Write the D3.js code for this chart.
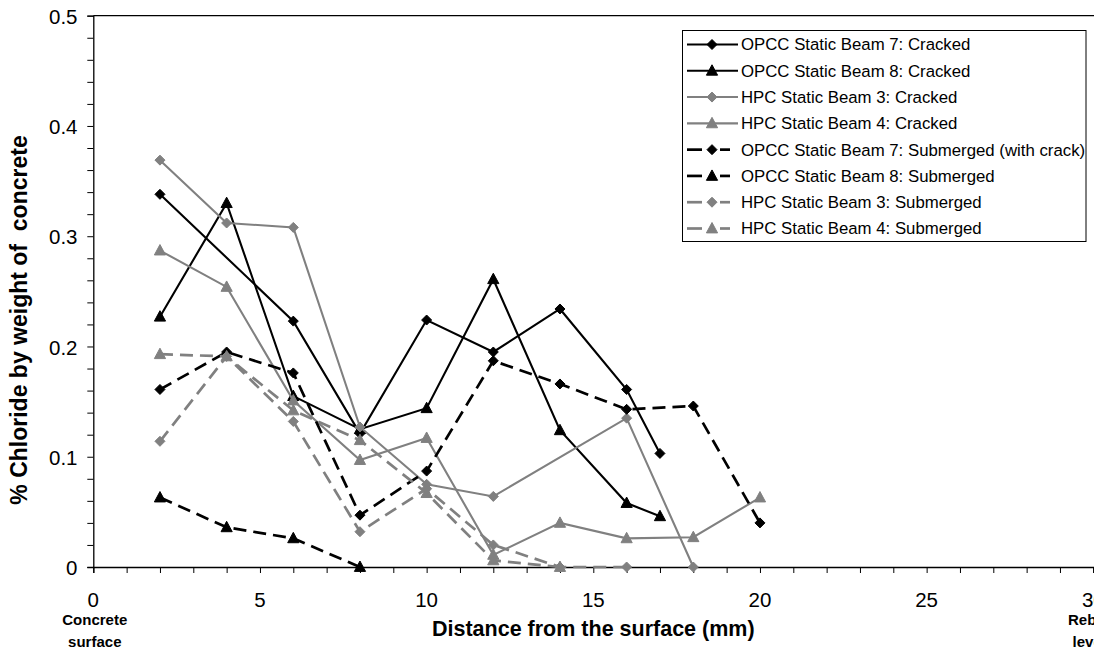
<!DOCTYPE html>
<html>
<head>
<meta charset="utf-8">
<script src="https://cdn.jsdelivr.net/npm/d3@7/dist/d3.min.js"></script>
<style>
  html, body { margin: 0; padding: 0; background: #fff; }
  svg { display: block; font-family: "Liberation Sans", Arial, sans-serif; }
</style>
</head>
<body>
<svg id="chart" width="1094" height="648"></svg>
<script>
// Chloride profiles: depth (mm) and % chloride by weight of concrete
const xOPCC7Cracked = [2, 6, 8, 10, 12, 14, 16, 17];
const yOPCC7Cracked = [0.338, 0.223, 0.121, 0.224, 0.195, 0.234, 0.161, 0.103];

const xOPCC8Cracked = [2, 4, 6, 8, 10, 12, 14, 16, 17];
const yOPCC8Cracked = [0.227, 0.330, 0.155, 0.125, 0.144, 0.261, 0.124, 0.058, 0.046];

const xHPC3Cracked = [2, 4, 6, 8, 10, 12, 16, 18];
const yHPC3Cracked = [0.369, 0.312, 0.308, 0.127, 0.075, 0.064, 0.135, 0];

const xHPC4Cracked = [2, 4, 6, 8, 10, 12, 14, 16, 18, 20];
const yHPC4Cracked = [0.287, 0.254, 0.151, 0.097, 0.117, 0.011, 0.040, 0.026, 0.027, 0.063];

const xOPCC7Sub = [2, 4, 6, 8, 10, 12, 14, 16, 18, 20];
const yOPCC7Sub = [0.161, 0.195, 0.176, 0.047, 0.087, 0.187, 0.166, 0.143, 0.146, 0.040];

const xOPCC8Sub = [2, 4, 6, 8];
const yOPCC8Sub = [0.063, 0.036, 0.026, 0];

const xHPC3Sub = [2, 4, 6, 8, 10, 12, 14, 16];
const yHPC3Sub = [0.114, 0.191, 0.132, 0.032, 0.071, 0.020, 0, 0];

const xHPC4Sub = [2, 4, 6, 8, 10, 12, 14];
const yHPC4Sub = [0.193, 0.191, 0.142, 0.115, 0.067, 0.006, 0];

const seriesNames = [
  "OPCC Static Beam 7: Cracked",
  "OPCC Static Beam 8: Cracked",
  "HPC Static Beam 3: Cracked",
  "HPC Static Beam 4: Cracked",
  "OPCC Static Beam 7: Submerged (with crack)",
  "OPCC Static Beam 8: Submerged",
  "HPC Static Beam 3: Submerged",
  "HPC Static Beam 4: Submerged"
];
const seriesX = [xOPCC7Cracked, xOPCC8Cracked, xHPC3Cracked, xHPC4Cracked, xOPCC7Sub, xOPCC8Sub, xHPC3Sub, xHPC4Sub];
const seriesY = [yOPCC7Cracked, yOPCC8Cracked, yHPC3Cracked, yHPC4Cracked, yOPCC7Sub, yOPCC8Sub, yHPC3Sub, yHPC4Sub];

const xTickLabels = [0, 5, 10, 15, 20, 25, 30];
const yTickLabels = [0, 0.1, 0.2, 0.3, 0.4, 0.5];

// Drawing styles per series
const BLACK = "#000000", GREY = "#808080";
const styles = [
  { color: BLACK, dashed: false, marker: "diamond" },
  { color: BLACK, dashed: false, marker: "triangle" },
  { color: GREY,  dashed: false, marker: "diamond" },
  { color: GREY,  dashed: false, marker: "triangle" },
  { color: BLACK, dashed: true,  marker: "diamond" },
  { color: BLACK, dashed: true,  marker: "triangle" },
  { color: GREY,  dashed: true,  marker: "diamond" },
  { color: GREY,  dashed: true,  marker: "triangle" }
];

const series = seriesNames.map((name, i) => ({
  name,
  ...styles[i],
  points: seriesX[i].map((x, j) => ({ x, y: seriesY[i][j] }))
}));

const svg = d3.select("#chart");
const plot = { left: 93.3, right: 1093.3, top: 15.7, bottom: 567 };

const x = d3.scaleLinear().domain([0, 30]).range([plot.left, plot.right]);
const y = d3.scaleLinear().domain([0, 0.5]).range([plot.bottom, plot.top]);

const markerPath = {
  diamond: "M0,-5L5,0L0,5L-5,0Z",
  triangle: "M0,-6L5.6,4.4L-5.6,4.4Z"
};

// Plot frame (top edge) and axes
svg.append("line")
  .attr("x1", plot.left).attr("x2", 1094)
  .attr("y1", plot.top).attr("y2", plot.top)
  .attr("stroke", "#000").attr("stroke-width", 1.3);

const yAxis = d3.axisLeft(y)
  .tickValues(d3.range(0, 0.5001, 0.02))
  .tickSize(6)
  .tickFormat(() => "");
svg.append("g")
  .attr("transform", `translate(${plot.left},0)`)
  .call(yAxis)
  .call(g => g.select(".domain").attr("stroke-width", 1.3))
  .call(g => g.selectAll(".tick line").attr("stroke-width", 1));

const xAxis = d3.axisBottom(x)
  .tickValues(d3.range(0, 31, 1))
  .tickSize(6)
  .tickFormat(() => "");
svg.append("g")
  .attr("transform", `translate(0,${plot.bottom})`)
  .call(xAxis)
  .call(g => g.select(".domain").attr("stroke-width", 1.3))
  .call(g => g.selectAll(".tick line").attr("stroke-width", 1));

// Tick labels
svg.append("g").selectAll("text")
  .data(yTickLabels)
  .join("text")
  .attr("x", 77.5)
  .attr("y", d => y(d) + 1)
  .attr("dy", "0.35em")
  .attr("text-anchor", "end")
  .attr("font-size", 20.5)
  .text(d => d === 0 ? "0" : d3.format(".1f")(d));

svg.append("g").selectAll("text")
  .data(xTickLabels)
  .join("text")
  .attr("x", d => x(d))
  .attr("y", 607)
  .attr("text-anchor", "middle")
  .attr("font-size", 20.5)
  .text(d => d);

// Axis titles
svg.append("text")
  .attr("x", (plot.left + plot.right) / 2)
  .attr("y", 636)
  .attr("text-anchor", "middle")
  .attr("font-size", 21.5)
  .attr("font-weight", "bold")
  .text("Distance from the surface (mm)");

svg.append("text")
  .attr("transform", "translate(26.5,320) rotate(-90)")
  .attr("text-anchor", "middle")
  .attr("font-size", 23)
  .attr("font-weight", "bold")
  .attr("xml:space", "preserve")
  .text("% Chloride by weight of  concrete");

// End labels under the depth axis
const endLabels = [
  { at: 0, lines: ["Concrete", "surface"] },
  { at: 30, lines: ["Rebar", "level"] }
];
endLabels.forEach(lbl => {
  lbl.lines.forEach((t, k) => {
    svg.append("text")
      .attr("x", x(lbl.at) + (lbl.at === 0 ? 1.5 : -4))
      .attr("y", 625 + k * 21.5)
      .attr("text-anchor", "middle")
      .attr("font-size", 15)
      .attr("font-weight", "bold")
      .text(t);
  });
});

// Series lines and markers
const line = d3.line().x(d => x(d.x)).y(d => y(d.y));

const seriesG = svg.append("g");
series.forEach(s => {
  const g = seriesG.append("g");
  g.append("path")
    .attr("d", line(s.points))
    .attr("fill", "none")
    .attr("stroke", s.color)
    .attr("stroke-width", s.dashed ? 2.7 : 2.1)
    .attr("stroke-dasharray", s.dashed ? "13,7" : null);
  g.selectAll("path.m")
    .data(s.points)
    .join("path")
    .attr("class", "m")
    .attr("transform", d => `translate(${x(d.x)},${y(d.y)})`)
    .attr("d", markerPath[s.marker])
    .attr("fill", s.color)
    .attr("stroke", s.color)
    .attr("stroke-width", 1);
});

// Legend
const legend = svg.append("g");
legend.append("rect")
  .attr("x", 682.5).attr("y", 30.5)
  .attr("width", 403.5).attr("height", 211)
  .attr("fill", "#fff")
  .attr("stroke", "#000")
  .attr("stroke-width", 1);

const rowY = d3.scaleLinear().domain([0, 7]).range([44.5, 228.5]);
series.forEach((s, i) => {
  const cy = rowY(i);
  const row = legend.append("g");
  if (s.dashed) {
    row.append("line").attr("x1", 687).attr("x2", 702).attr("y1", cy).attr("y2", cy)
      .attr("stroke", s.color).attr("stroke-width", 2.7);
    row.append("line").attr("x1", 720).attr("x2", 730).attr("y1", cy).attr("y2", cy)
      .attr("stroke", s.color).attr("stroke-width", 2.7);
  } else {
    row.append("line").attr("x1", 687).attr("x2", 738).attr("y1", cy).attr("y2", cy)
      .attr("stroke", s.color).attr("stroke-width", 2.1);
  }
  row.append("path")
    .attr("transform", `translate(712,${cy})`)
    .attr("d", markerPath[s.marker])
    .attr("fill", s.color)
    .attr("stroke", s.color)
    .attr("stroke-width", 1);
  row.append("text")
    .attr("x", 741)
    .attr("y", cy)
    .attr("dy", "0.35em")
    .attr("font-size", 16.8)
    .text(s.name);
});
</script>
</body>
</html>
